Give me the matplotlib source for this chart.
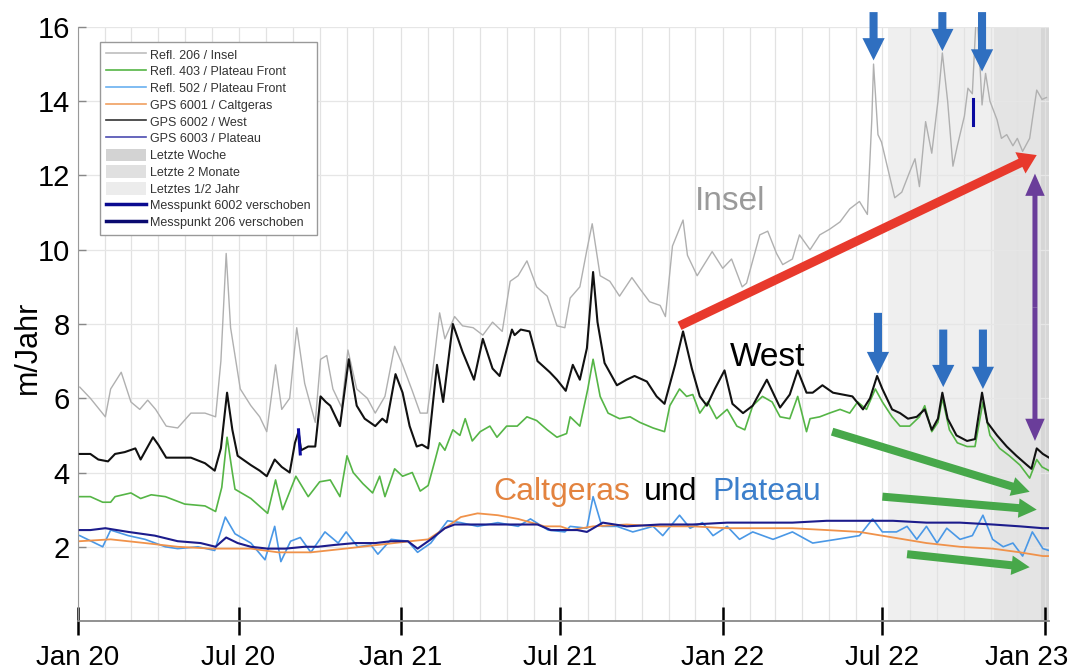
import numpy as np
import matplotlib
matplotlib.use('Agg')
import matplotlib.pyplot as plt
import matplotlib.dates as mdates
from matplotlib.patches import FancyArrowPatch, Patch
from matplotlib.lines import Line2D
from matplotlib.ticker import FuncFormatter

plt.rcParams['font.family'] = ['Liberation Sans', 'DejaVu Sans']

start = np.datetime64('2020-01-01')

# Tage seit 1.1.2020 und Geschwindigkeit in m/Jahr
insel_tag = [2, 14, 31, 37, 49, 60, 70, 79, 88, 100, 113, 128, 144, 156, 162, 168, 173, 184, 196, 206,
             214, 224, 231, 240, 248, 257, 269, 275, 282, 289, 299, 306, 316, 328, 337, 348, 359, 368, 379, 388,
             396, 402, 410, 416, 427, 436, 448, 459, 470, 481, 490, 499, 509, 520, 532, 543, 552, 558, 569, 577,
             583, 592, 603, 614, 628, 637, 648, 660, 666, 674, 686, 691, 702, 719, 731, 741, 753, 758, 773, 782,
             792, 799, 810, 818, 830, 841, 852, 864, 875, 886, 895, 900, 902, 907, 911, 918, 926, 934, 943, 949,
             954, 961, 968, 975, 980, 986, 992, 997, 1005, 1009, 1014, 1019, 1025, 1029, 1034, 1042, 1047, 1053, 1060, 1065,
             1071, 1079, 1082, 1087, 1093, 1098]
insel = [6.3, 6.0, 5.5, 6.25, 6.7, 5.9, 5.7, 5.95, 5.7, 5.25, 5.2, 5.6, 5.6, 5.5, 7.0, 9.9, 7.9, 6.25, 5.8, 5.5,
         5.1, 6.9, 5.7, 6.0, 7.9, 6.4, 5.35, 7.05, 7.15, 6.25, 5.75, 7.3, 6.25, 6.0, 5.6, 6.05, 7.4, 6.9, 6.2, 5.6,
         5.6, 6.7, 8.3, 7.6, 8.2, 7.95, 7.9, 7.7, 8.05, 7.8, 9.15, 9.3, 9.7, 9.0, 8.75, 7.95, 7.9, 8.7, 9.0, 10.0,
         10.7, 9.3, 9.15, 8.75, 9.25, 8.95, 8.6, 8.5, 8.2, 10.1, 10.8, 9.85, 9.3, 9.95, 9.5, 9.75, 9.0, 9.1, 10.4, 10.5,
         9.9, 9.6, 9.75, 10.4, 10.0, 10.4, 10.55, 10.75, 11.1, 11.3, 10.95, 13.5, 15.0, 13.1, 12.9, 12.2, 11.4, 11.55, 12.1, 12.45,
         11.7, 13.45, 12.6, 14.0, 15.3, 14.0, 12.25, 12.8, 13.6, 14.35, 14.2, 16.6, 13.9, 14.75, 14.0, 13.5, 13.0, 13.1, 12.8, 13.0,
         12.65, 13.0, 13.5, 14.3, 14.05, 14.1]

west_tag = [2, 14, 23, 34, 42, 53, 65, 71, 85, 91, 100, 113, 128, 144, 155, 162, 169, 175, 181, 196,
            206, 214, 223, 231, 240, 246, 250, 253, 261, 269, 275, 281, 286, 297, 307, 316, 325, 337, 345, 350,
            360, 368, 376, 384, 390, 397, 407, 414, 425, 436, 449, 459, 470, 478, 492, 495, 502, 512, 521, 535,
            543, 553, 561, 569, 577, 584, 589, 597, 611, 622, 631, 645, 656, 665, 677, 686, 696, 705, 713, 722,
            733, 742, 754, 765, 781, 796, 807, 816, 826, 833, 844, 856, 867, 878, 890, 898, 906, 912, 923, 932,
            941, 951, 960, 968, 975, 980, 986, 996, 1008, 1017, 1025, 1031, 1042, 1053, 1064, 1076, 1081, 1087, 1094, 1101]
west = [4.5, 4.5, 4.35, 4.3, 4.5, 4.55, 4.65, 4.35, 4.95, 4.75, 4.4, 4.4, 4.4, 4.25, 4.05, 4.65, 6.15, 5.15, 4.45, 4.2,
        4.05, 3.9, 4.35, 4.15, 4.0, 4.8, 5.1, 4.6, 4.7, 4.7, 6.05, 5.9, 5.8, 5.25, 7.05, 5.8, 5.45, 5.25, 5.45, 5.35,
        6.65, 6.15, 5.25, 4.7, 4.75, 4.65, 6.9, 5.9, 8.0, 7.25, 6.5, 7.6, 6.8, 6.6, 7.85, 7.7, 7.85, 7.8, 7.0, 6.7,
        6.5, 6.2, 6.9, 6.5, 7.35, 9.4, 8.05, 6.95, 6.35, 6.5, 6.6, 6.45, 6.05, 5.85, 6.9, 7.8, 6.8, 6.05, 5.8, 6.25,
        6.75, 5.85, 5.6, 5.8, 6.5, 5.75, 6.1, 6.75, 6.15, 6.15, 6.35, 6.15, 6.1, 6.05, 5.7, 6.0, 6.6, 6.25, 5.7, 5.6,
        5.45, 5.5, 5.7, 5.15, 5.45, 6.15, 5.45, 5.0, 4.85, 4.9, 6.15, 5.35, 5.0, 4.7, 4.45, 4.2, 4.1, 4.65, 4.5, 4.4]

front_tag = [2, 14, 28, 37, 42, 60, 71, 83, 99, 121, 144, 156, 163, 169, 175, 178, 196, 215, 224, 232,
             247, 261, 274, 286, 297, 305, 312, 323, 334, 342, 348, 359, 368, 379, 388, 397, 405, 410, 416, 425,
             433, 439, 447, 456, 467, 475, 486, 498, 509, 520, 532, 543, 554, 558, 569, 578, 584, 592, 601, 614,
             626, 637, 652, 665, 671, 682, 690, 697, 705, 714, 724, 736, 747, 756, 765, 776, 787, 796, 807, 816,
             826, 830, 841, 852, 864, 875, 884, 894, 904, 912, 923, 932, 943, 954, 960, 968, 975, 980, 988, 997,
             1008, 1017, 1026, 1034, 1045, 1056, 1068, 1079, 1087, 1093, 1101]
front = [3.35, 3.35, 3.2, 3.2, 3.35, 3.45, 3.3, 3.4, 3.35, 3.15, 3.1, 2.95, 3.6, 4.95, 4.0, 3.55, 3.3, 2.9, 3.8, 3.0,
         3.9, 3.35, 3.75, 3.8, 3.35, 4.45, 4.0, 3.7, 3.45, 3.9, 3.35, 4.1, 3.9, 4.0, 3.5, 3.65, 4.35, 4.8, 4.6, 5.15,
         5.0, 5.45, 4.85, 5.1, 5.25, 4.95, 5.25, 5.25, 5.5, 5.4, 5.15, 4.95, 5.05, 5.5, 5.25, 6.25, 7.05, 6.05, 5.6, 5.45,
         5.5, 5.35, 5.2, 5.1, 5.8, 6.25, 6.05, 6.1, 5.6, 5.9, 5.45, 5.7, 5.25, 5.15, 5.8, 6.05, 5.9, 5.5, 5.45, 6.05,
         5.1, 5.45, 5.5, 5.6, 5.7, 5.6, 5.9, 5.7, 6.25, 5.9, 5.5, 5.25, 5.25, 5.5, 5.8, 5.1, 5.35, 6.0, 5.15, 4.8,
         4.7, 4.7, 5.9, 5.0, 4.65, 4.45, 4.2, 3.85, 4.35, 4.15, 4.05]

refl502_tag = [2, 28, 37, 57, 76, 99, 113, 136, 155, 167, 178, 196, 212, 223, 230, 241, 252, 264, 280, 295,
               304, 317, 332, 340, 355, 374, 385, 400, 419, 434, 453, 476, 499, 513, 533, 552, 558, 577, 584, 594,
               611, 629, 652, 663, 682, 694, 708, 720, 736, 750, 765, 788, 810, 833, 860, 886, 901, 912, 928, 940,
               951, 962, 974, 985, 1000, 1014, 1026, 1037, 1049, 1060, 1071, 1082, 1094, 1101]
refl502 = [2.3, 2.0, 2.45, 2.3, 2.2, 2.0, 1.95, 2.0, 1.9, 2.8, 2.35, 2.1, 1.65, 2.55, 1.6, 2.15, 2.25, 1.85, 2.4, 2.1,
           2.4, 2.0, 2.05, 1.8, 2.2, 2.15, 1.85, 2.1, 2.7, 2.65, 2.55, 2.65, 2.55, 2.75, 2.45, 2.4, 2.55, 2.5, 3.35, 2.55,
           2.55, 2.4, 2.55, 2.3, 2.85, 2.5, 2.65, 2.3, 2.55, 2.2, 2.4, 2.2, 2.4, 2.1, 2.2, 2.3, 2.75, 2.4, 2.4, 2.55,
           2.2, 2.55, 2.1, 2.5, 2.2, 2.3, 2.85, 2.2, 2.0, 2.1, 1.75, 2.4, 1.95, 1.9]

calt_tag = [2, 37, 76, 113, 151, 170, 196, 227, 264, 303, 340, 377, 397, 416, 434, 453, 476, 499, 529, 547,
            559, 584, 622, 660, 697, 736, 773, 810, 849, 886, 924, 962, 1000, 1037, 1068, 1094, 1101]
calt = [2.15, 2.2, 2.1, 2.0, 1.95, 1.95, 1.95, 1.85, 1.85, 1.95, 2.05, 2.15, 2.2, 2.5, 2.8, 2.9, 2.85, 2.75, 2.55, 2.55,
        2.45, 2.55, 2.6, 2.55, 2.55, 2.5, 2.5, 2.5, 2.45, 2.4, 2.25, 2.1, 2.0, 1.95, 1.85, 1.75, 1.75]

plat_tag = [2, 14, 31, 57, 87, 113, 139, 156, 168, 181, 196, 215, 235, 257, 272, 291, 314, 337, 355, 374,
            385, 400, 416, 427, 453, 484, 521, 536, 555, 566, 577, 595, 622, 660, 697, 736, 773, 810, 849, 886,
            924, 962, 1000, 1037, 1068, 1094, 1101]
plat = [2.45, 2.45, 2.5, 2.4, 2.3, 2.15, 2.1, 2.0, 2.25, 2.1, 2.0, 1.95, 1.95, 2.0, 2.0, 2.05, 2.1, 2.1, 2.15, 2.15,
        1.95, 2.2, 2.5, 2.6, 2.6, 2.6, 2.6, 2.45, 2.45, 2.45, 2.4, 2.65, 2.55, 2.6, 2.6, 2.65, 2.65, 2.65, 2.7, 2.7,
        2.7, 2.65, 2.65, 2.6, 2.55, 2.5, 2.5]

# Messpunkt verschoben
mp6002_tag = [250, 252]
mp6002 = [5.15, 4.5]
mp206_tag = [1015, 1015]
mp206 = [14.05, 13.35]

# Zeitfenster (Tage)
halbjahr_ab = 918
zwei_monate_ab = 1039
woche_ab = 1092
ende = 1101


def tage(t):
    return start + np.array(t).astype('timedelta64[D]')


fig = plt.figure(figsize=(10.73, 6.69), dpi=100)
ax = fig.add_axes([0.0727, 0.0717, 0.905, 0.888])

ax.axvspan(tage(halbjahr_ab), tage(ende), color='#efefef', lw=0, zorder=0)
ax.axvspan(tage(zwei_monate_ab), tage(ende), color='#e4e4e4', lw=0, zorder=0)
ax.axvspan(tage(woche_ab), tage(ende), color='#d6d6d6', lw=0, zorder=0)

ax.plot(tage(insel_tag), insel, color='#b0b0b0', lw=1.0, zorder=2)
ax.plot(tage(front_tag), front, color='#55b546', lw=1.2, zorder=3)
ax.plot(tage(west_tag), west, color='#111111', lw=1.5, zorder=4)
ax.plot(tage(refl502_tag), refl502, color='#4a98e6', lw=1.2, zorder=3)
ax.plot(tage(calt_tag), calt, color='#f0924a', lw=1.3, zorder=3)
ax.plot(tage(plat_tag), plat, color='#1c1c8c', lw=1.5, zorder=4)
ax.plot(tage(mp6002_tag), mp6002, color='#0a0aa0', lw=2.2, zorder=5)
ax.plot(tage(mp206_tag), mp206, color='#0a0aa0', lw=2.2, zorder=5)

ax.set_xlim(tage(0), tage(ende))
ax.set_ylim(0, 16)
ax.set_yticks(range(2, 17, 2))


def monat(x, pos):
    d = mdates.num2date(x)
    if d.year == 2023:
        return ''
    return d.strftime('%b %y')


ax.xaxis.set_major_locator(mdates.MonthLocator(bymonth=[1, 7]))
ax.xaxis.set_major_formatter(FuncFormatter(monat))
ax.xaxis.set_minor_locator(mdates.MonthLocator())
ax.grid(True, which='minor', axis='x', color='#e2e2e2', lw=0.9)
ax.grid(True, which='major', axis='x', color='#e2e2e2', lw=0.9)
ax.grid(True, which='major', axis='y', color='#e6e6e6', lw=0.9)
ax.set_axisbelow(True)

ax.tick_params(axis='x', which='major', direction='inout', length=20, width=1.8,
               color='black', labelsize=20, pad=7)
ax.tick_params(axis='x', which='minor', length=0)
ax.tick_params(axis='y', direction='in', length=6, width=1, color='#888888',
               labelsize=21, pad=6)
for s in ['top', 'right']:
    ax.spines[s].set_visible(False)
ax.spines['left'].set_color('#999999')
ax.spines['bottom'].set_color('#888888')
ax.spines['bottom'].set_linewidth(1.3)
ax.set_ylabel('m/Jahr', fontsize=22)
ax.yaxis.set_label_coords(-0.036, 0.46)

# letzte Achsenbeschriftung etwas nach links, damit sie ins Bild passt
ax.annotate('Jan 23', xy=(tage(1096), 0), xytext=(-13, -17), textcoords='offset points',
            ha='center', va='top', fontsize=20, annotation_clip=False)

# Beschriftungen
ax.text(tage(739), 11.3, 'Insel', color='#9a9a9a', fontsize=24, ha='center', va='center')
ax.text(tage(782), 7.1, 'West', color='black', fontsize=24, ha='center', va='center')
ax.text(tage(626), 3.48, 'Caltgeras', color='#e3833f', fontsize=23, ha='right', va='center')
ax.text(tage(672), 3.48, 'und', color='black', fontsize=23, ha='center', va='center')
ax.text(tage(719), 3.48, 'Plateau', color='#3c7fcb', fontsize=23, ha='left', va='center')


def pfeil(t0, v0, t1, v1, farbe, schaft, kopf_b, kopf_l):
    x0 = mdates.date2num(tage(t0))
    x1 = mdates.date2num(tage(t1))
    stil = 'simple,head_length=%g,head_width=%g,tail_width=%g' % (kopf_l, kopf_b, schaft)
    p = FancyArrowPatch((x0, v0), (x1, v1), arrowstyle=stil, mutation_scale=1,
                        color=farbe, lw=0, shrinkA=0, shrinkB=0, zorder=7, clip_on=False)
    ax.add_patch(p)


pfeil(682, 7.95, 1087, 12.55, '#e8392c', 6.5, 17, 13)
pfeil(1085, 8.45, 1085, 12.05, '#6a3d9a', 3.6, 14, 16)
pfeil(1085, 8.45, 1085, 4.85, '#6a3d9a', 3.6, 14, 16)
for t, v in [(902, 15.1), (980, 15.35), (1025, 14.8)]:
    pfeil(t, 16.4, t, v, '#2f6fc0', 5.8, 16, 16)
for t, v0, v1 in [(907, 8.3, 6.65), (981, 7.85, 6.3), (1026, 7.85, 6.25)]:
    pfeil(t, v0, t, v1, '#2f6fc0', 5.8, 16, 16)
pfeil(855, 5.1, 1079, 3.48, '#47a84a', 5.8, 14, 13)
pfeil(912, 3.35, 1087, 3.0, '#47a84a', 5.8, 14, 13)
pfeil(940, 1.8, 1079, 1.45, '#47a84a', 5.8, 14, 13)

handles = [
    Line2D([], [], color='#bdbdbd', lw=1.2),
    Line2D([], [], color='#55b546', lw=1.2),
    Line2D([], [], color='#6ab0f0', lw=1.2),
    Line2D([], [], color='#f0a060', lw=1.2),
    Line2D([], [], color='#333333', lw=1.2),
    Line2D([], [], color='#4b4bb0', lw=1.2),
    Patch(facecolor='#d3d3d3', edgecolor='none'),
    Patch(facecolor='#e0e0e0', edgecolor='none'),
    Patch(facecolor='#ececec', edgecolor='none'),
    Line2D([], [], color='#0a0a90', lw=2.5),
    Line2D([], [], color='#0a0a70', lw=2.5),
]
labels = ['Refl. 206 / Insel', 'Refl. 403 / Plateau Front', 'Refl. 502 / Plateau Front',
          'GPS 6001 / Caltgeras', 'GPS 6002 / West', 'GPS 6003 / Plateau',
          'Letzte Woche', 'Letzte 2 Monate', 'Letztes 1/2 Jahr',
          'Messpunkt 6002 verschoben', 'Messpunkt 206 verschoben']
leg = ax.legend(handles, labels, loc='upper left', bbox_to_anchor=(0.0227, 0.975),
                borderaxespad=0, fontsize=9, handlelength=3.2, handleheight=1.2,
                labelspacing=0.25, fancybox=False, framealpha=1, edgecolor='#999999',
                borderpad=0.5, handletextpad=0.3)
leg.get_frame().set_linewidth(1.0)
for t in leg.get_texts():
    t.set_color('#333333')

fig.savefig('out.png', dpi=100)
